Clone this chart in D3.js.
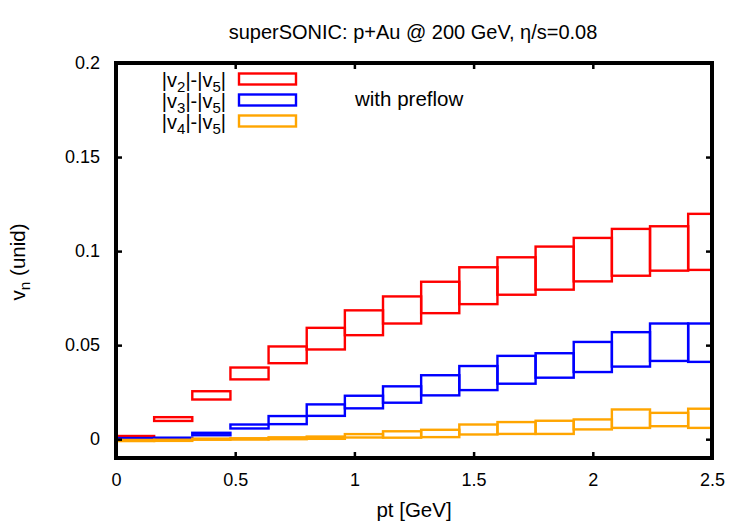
<!DOCTYPE html>
<html>
<head>
<meta charset="utf-8">
<script src="https://cdn.jsdelivr.net/npm/d3@7"></script>
<style>
  body { margin: 0; background: #fff; }
  svg text { font-family: "Liberation Sans", Arial, sans-serif; fill: #000; }
</style>
</head>
<body>
<div id="chart"></div>
<script>
// pt bins (lower edges), width 0.16 GeV
const ptLow = [0, 0.16, 0.32, 0.48, 0.64, 0.8, 0.96, 1.12, 1.28, 1.44, 1.6, 1.76, 1.92, 2.08, 2.24, 2.4];
const binWidth = 0.16;

const v2Low  = [0.0010, 0.0097, 0.0211, 0.0318, 0.0404, 0.0477, 0.0553, 0.0615, 0.0670, 0.0718, 0.0768, 0.0795, 0.0839, 0.0869, 0.0896, 0.0900];
const v2High = [0.0017, 0.0117, 0.0255, 0.0381, 0.0493, 0.0592, 0.0685, 0.0759, 0.0837, 0.0914, 0.0967, 0.1024, 0.1070, 0.1118, 0.1132, 0.1198];

const v3Low  = [0.0002, 0.0006, 0.0021, 0.0057, 0.0080, 0.0124, 0.0164, 0.0194, 0.0233, 0.0261, 0.0295, 0.0327, 0.0357, 0.0386, 0.0416, 0.0411];
const v3High = [0.0006, 0.0008, 0.0034, 0.0078, 0.0123, 0.0185, 0.0231, 0.0281, 0.0340, 0.0389, 0.0443, 0.0457, 0.0517, 0.0569, 0.0615, 0.0615];

const v4Low  = [-0.0010, -0.0009, -0.0003, -0.0002, 0.0000, 0.0002, 0.0009, 0.0008, 0.0011, 0.0025, 0.0028, 0.0028, 0.0052, 0.0060, 0.0069, 0.0060];
const v4High = [-0.0004, -0.0003, 0.0003, 0.0005, 0.0010, 0.0014, 0.0027, 0.0042, 0.0050, 0.0078, 0.0091, 0.0098, 0.0105, 0.0158, 0.0140, 0.0162];

const xTicks = [0, 0.5, 1, 1.5, 2, 2.5];
const yTicks = [0, 0.05, 0.1, 0.15, 0.2];

const series = [
  { sub: '2', low: v2Low, high: v2High, color: '#ff0000' },
  { sub: '3', low: v3Low, high: v3High, color: '#0000ff' },
  { sub: '4', low: v4Low, high: v4High, color: '#ffa500' },
];

const W = 750, H = 525;
const margin = { top: 63, right: 38, bottom: 67, left: 116 };
const width = W - margin.left - margin.right;
const height = H - margin.top - margin.bottom;

const svg = d3.select('#chart').append('svg')
  .attr('width', W).attr('height', H);

const g = svg.append('g').attr('transform', `translate(${margin.left},${margin.top})`);

const x = d3.scaleLinear().domain([0, 2.5]).range([0, width]);
const y = d3.scaleLinear().domain([-0.01, 0.2]).range([height, 0]);

g.append('clipPath').attr('id', 'plotclip')
  .append('rect').attr('width', width).attr('height', height);

const plot = g.append('g').attr('clip-path', 'url(#plotclip)');

series.forEach(s => {
  plot.append('g').selectAll('rect').data(ptLow).enter().append('rect')
    .attr('x', d => x(d))
    .attr('width', d => x(d + binWidth) - x(d))
    .attr('y', (d, i) => y(s.high[i]))
    .attr('height', (d, i) => y(s.low[i]) - y(s.high[i]))
    .attr('fill', 'none')
    .attr('stroke', s.color)
    .attr('stroke-width', 2.4);
});

// axes with inward ticks, mirrored
const tickLen = 6;
const axB = g.append('g').attr('transform', `translate(0,${height})`)
  .call(d3.axisBottom(x).tickValues(xTicks).tickSizeInner(-tickLen).tickSizeOuter(0).tickPadding(15).tickFormat(d3.format('')));
const axT = g.append('g')
  .call(d3.axisTop(x).tickValues(xTicks).tickSizeInner(-tickLen).tickSizeOuter(0).tickFormat(''));
const axL = g.append('g')
  .call(d3.axisLeft(y).tickValues(yTicks).tickSizeInner(-tickLen).tickSizeOuter(0).tickPadding(16).tickFormat(d3.format('')));
const axR = g.append('g').attr('transform', `translate(${width},0)`)
  .call(d3.axisRight(y).tickValues(yTicks).tickSizeInner(-tickLen).tickSizeOuter(0).tickFormat(''));

[axB, axT, axL, axR].forEach(a => {
  a.select('.domain').remove();
  a.selectAll('.tick line').attr('stroke', '#000').attr('stroke-width', 2.5);
  a.selectAll('text').attr('font-size', 18).attr('fill', '#000')
    .style('font-family', '"Liberation Sans", Arial, sans-serif');
});

g.append('rect')
  .attr('width', width).attr('height', height)
  .attr('fill', 'none').attr('stroke', '#000').attr('stroke-width', 4);

// title and labels
svg.append('text')
  .attr('x', 413).attr('y', 39)
  .attr('text-anchor', 'middle').attr('font-size', 20)
  .text('superSONIC: p+Au @ 200 GeV, η/s=0.08');

svg.append('text')
  .attr('x', margin.left + width / 2).attr('y', 517)
  .attr('text-anchor', 'middle').attr('font-size', 20.5)
  .text('pt [GeV]');

const yl = svg.append('text')
  .attr('transform', 'translate(25,262) rotate(-90)')
  .attr('text-anchor', 'middle').attr('font-size', 20.5);
yl.append('tspan').text('v');
yl.append('tspan').attr('baseline-shift', '-30%').attr('font-size', 15.5).text('n');
yl.append('tspan').text(' (unid)');

svg.append('text')
  .attr('x', 355).attr('y', 106).attr('font-size', 20.5)
  .text('with preflow');

// legend
const legend = svg.append('g');
series.forEach((s, i) => {
  const cy = 79 + i * 21;
  const t = legend.append('text')
    .attr('x', 226).attr('y', cy + 8)
    .attr('text-anchor', 'end').attr('font-size', 20);
  t.append('tspan').text('|v');
  t.append('tspan').attr('baseline-shift', '-30%').attr('font-size', 15).text(s.sub);
  t.append('tspan').text('|-|v');
  t.append('tspan').attr('baseline-shift', '-30%').attr('font-size', 15).text('5');
  t.append('tspan').text('|');
  legend.append('rect')
    .attr('x', 239).attr('y', cy - 5.5)
    .attr('width', 57).attr('height', 11)
    .attr('fill', 'none').attr('stroke', s.color).attr('stroke-width', 2.4);
});
</script>
</body>
</html>
